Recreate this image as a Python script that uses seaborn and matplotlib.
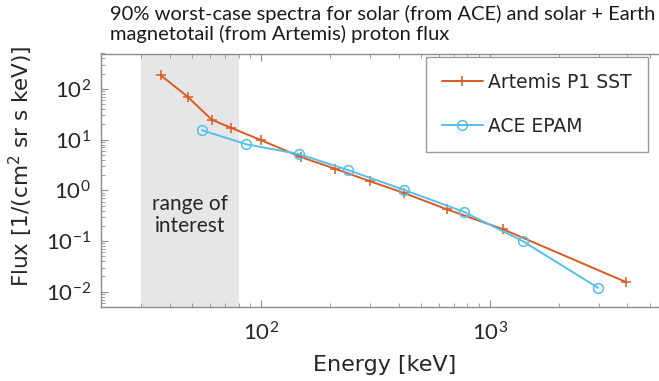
import numpy as np
import pandas as pd
import matplotlib
matplotlib.use("Agg")
import matplotlib.pyplot as plt
import seaborn as sns

# Artemis P1 SST proton flux (90% worst case)
artemis_energy = [36.6, 47.9, 61.1, 74.0, 100.7, 150.5, 211, 299, 423, 649, 1140, 3955]
artemis_flux = [185, 70.6, 24.7, 17.2, 9.7, 4.5, 2.67, 1.52, 0.885, 0.424, 0.172, 0.0154]

# ACE EPAM proton flux (90% worst case)
ace_energy = [55.4, 86.6, 147, 240, 423, 774, 1396, 2972]
ace_flux = [15.3, 8.1, 5.18, 2.52, 1.02, 0.374, 0.0995, 0.012]

series_names = ["Artemis P1 SST", "ACE EPAM"]
interest_range = [30, 80]
x_tick_values = [100, 1000]
y_tick_values = [1e-2, 1e-1, 1, 10, 100]

title_lines = ["90% worst-case spectra for solar (from ACE) and solar + Earth",
               "magnetotail (from Artemis) proton flux"]

sns.set_theme(style="white")
plt.rcParams["font.family"] = ["DejaVu Sans"]

ORANGE = "#DA5A22"
BLUE = "#55BFEC"
AXIS_GRAY = "#8c8c8c"
TEXT_DARK = "#262626"

W, H = 659, 381
fig = plt.figure(figsize=(W / 100, H / 100), dpi=100)

# axes box (pixels): left 100.7, top 53.5, bottom 307, right beyond figure edge
left_px, top_px, bottom_px, right_px = 100.7, 53.5, 307.0, 667.8
ax_w, ax_h = right_px - left_px, bottom_px - top_px
ax = fig.add_axes([left_px / W, 1 - bottom_px / H, ax_w / W, ax_h / H])

df_a = pd.DataFrame({"Energy": artemis_energy, "Flux": artemis_flux})
df_c = pd.DataFrame({"Energy": ace_energy, "Flux": ace_flux})

ax.axvspan(interest_range[0], interest_range[1], color="#e6e6e6", lw=0, zorder=0)

sns.lineplot(data=df_a, x="Energy", y="Flux", ax=ax, color=ORANGE, lw=1.4,
             marker="+", markersize=7, markeredgewidth=1.1,
             markeredgecolor=ORANGE,
             label=series_names[0], zorder=3)
sns.lineplot(data=df_c, x="Energy", y="Flux", ax=ax, color=BLUE, lw=1.4,
             marker="o", markersize=7, markerfacecolor="none",
             markeredgecolor=BLUE, markeredgewidth=1.1,
             label=series_names[1], zorder=4)

ax.set_xscale("log")
ax.set_yscale("log")
ax.set_xlim(20, 6000)
ax.set_ylim(5e-3, 500)
ax.set_xticks(x_tick_values)
ax.set_yticks(y_tick_values)

for side, sp in ax.spines.items():
    sp.set_color(AXIS_GRAY)
    sp.set_linewidth(1.0)
    sp.set_visible(side in ("left", "bottom", "top"))

ax.yaxis.set_minor_locator(matplotlib.ticker.LogLocator(base=10, subs=np.arange(2, 10), numticks=20))
ax.xaxis.set_minor_locator(matplotlib.ticker.LogLocator(base=10, subs=np.arange(2, 10), numticks=20))
ax.yaxis.set_minor_formatter(matplotlib.ticker.NullFormatter())
ax.xaxis.set_minor_formatter(matplotlib.ticker.NullFormatter())
ax.tick_params(which="both", direction="in", top=True, bottom=True, left=True,
               right=False, color=AXIS_GRAY, labelcolor=TEXT_DARK)
ax.tick_params(which="major", length=5, width=0.8, labelsize=16, pad=7)
ax.tick_params(axis="x", which="major", pad=10)
ax.tick_params(which="minor", length=3, width=0.6)
for lbl in ax.get_xticklabels() + ax.get_yticklabels():
    lbl.set_family("Lato")

ax.set_xlabel("Energy [keV]", fontsize=16, color=TEXT_DARK, labelpad=8)
ax.set_ylabel("Flux [1/(cm$^2$ sr s keV)]", fontsize=15.5, color=TEXT_DARK)
# y label sits a little above the axes' mid-height
ax.yaxis.set_label_coords((35 - left_px) / ax_w, (bottom_px - 166) / ax_h)

ax.text(np.sqrt(interest_range[0] * interest_range[1]), (bottom_px - 215) / ax_h,
        "range of\ninterest", transform=ax.get_xaxis_transform(),
        ha="center", va="center", fontsize=15, family="Lato",
        color=TEXT_DARK, linespacing=1.1)

leg = ax.legend(loc="upper right",
                bbox_to_anchor=((648 - left_px) / ax_w, (bottom_px - 56.7) / ax_h),
                borderaxespad=0, fontsize=13.5, frameon=True, fancybox=False,
                framealpha=1, edgecolor="#999999", handlelength=2.2,
                labelspacing=1.35, borderpad=0.85, handletextpad=0.3)
leg.get_frame().set_linewidth(1.0)
for t in leg.get_texts():
    t.set_color(TEXT_DARK)

for i, line in enumerate(title_lines):
    fig.text(110 / W, 1 - (14 + 20 * i) / H, line, ha="left", va="center",
             fontsize=14.5, family="Lato", color="#1a1a1a")

fig.savefig("out.png", dpi=100)
